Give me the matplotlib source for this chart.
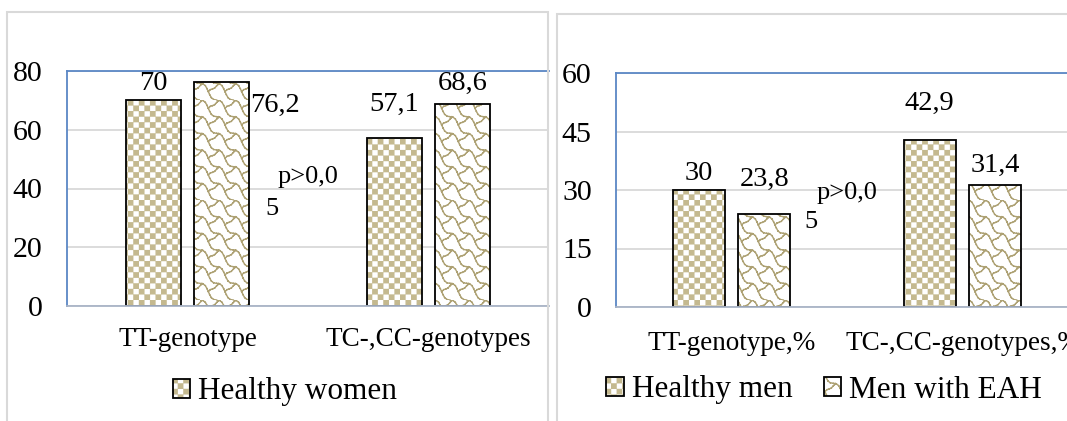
import numpy as np
import matplotlib
matplotlib.use('Agg')
import matplotlib.pyplot as plt
import matplotlib.hatch as mhatch
from matplotlib.colors import to_rgba
from matplotlib.path import Path
from matplotlib.patches import Rectangle

# data
women_cats = ['TT-genotype', 'TC-,CC-genotypes']
women_healthy = [70, 57.1]
women_eah = [76.2, 68.6]
women_healthy_lbl = ['70', '57,1']
women_eah_lbl = ['76,2', '68,6']

men_cats = ['TT-genotype,%', 'TC-,CC-genotypes,%']
men_healthy = [30, 42.9]
men_eah = [23.8, 31.4]
men_healthy_lbl = ['30', '42,9']
men_eah_lbl = ['23,8', '31,4']

p_text = ['p>0,0', '5']

CHECK_COL = '#c4b98f'
WAVE_COL = '#ada173'


# custom hatches: 'o' -> checkerboard, 'O' -> shingle waves
class CheckerHatch(mhatch.HatchPatternBase):
    filled = True

    def __init__(self, hatch, density):
        self.n = 18 if 'o' in hatch else 0
        self.num_vertices = (self.n * self.n // 2) * 5

    def set_vertices_and_codes(self, vertices, codes):
        s = 1.0 / self.n
        d = 0.006
        k = 0
        for i in range(self.n):
            for j in range(self.n):
                if (i + j) % 2:
                    continue
                x0, y0 = i * s + d, j * s + d
                x1, y1 = (i + 1) * s - d, (j + 1) * s - d
                vertices[k:k + 5] = [(x0, y0), (x1, y0), (x1, y1), (x0, y1), (x0, y0)]
                codes[k:k + 5] = [Path.MOVETO, Path.LINETO, Path.LINETO,
                                  Path.LINETO, Path.CLOSEPOLY]
                k += 5


class ShingleHatch(mhatch.HatchPatternBase):
    filled = False
    motif = [[(0.0, 1.0), (0.18, 0.97), (0.32, 0.86), (0.42, 0.68), (0.5, 0.5),
              (0.58, 0.32), (0.68, 0.14), (0.82, 0.03), (1.0, 0.0)],
             [(0.5, 0.5), (0.62, 0.62), (0.75, 0.66), (0.88, 0.72), (1.0, 0.85)],
             [(0.0, 0.85), (0.08, 0.93), (0.12, 1.0)]]

    def __init__(self, hatch, density):
        self.n = 6 if 'O' in hatch else 0
        nseg = sum(len(m) - 1 for m in self.motif)
        self.num_vertices = self.n * self.n * nseg * 2

    def set_vertices_and_codes(self, vertices, codes):
        s = 1.0 / self.n
        k = 0
        for i in range(self.n):
            for j in range(self.n):
                for m in self.motif:
                    for a, b in zip(m[:-1], m[1:]):
                        vertices[k] = ((i + a[0]) * s, (j + a[1]) * s)
                        vertices[k + 1] = ((i + b[0]) * s, (j + b[1]) * s)
                        codes[k] = Path.MOVETO
                        codes[k + 1] = Path.LINETO
                        k += 2


mhatch._hatch_types = [CheckerHatch, ShingleHatch]

plt.rcParams['font.family'] = ['Liberation Serif', 'DejaVu Serif']
plt.rcParams['hatch.linewidth'] = 1.0

W, H = 1067, 421
fig = plt.figure(figsize=(W / 100, H / 100), dpi=100)
fig.patch.set_facecolor('white')

# panel frames
fig.add_artist(Rectangle((7 / W, -0.1), 541 / W, (H - 12) / H + 0.1, transform=fig.transFigure,
                         fill=False, edgecolor='#d9d9d9', linewidth=1.5))
fig.add_artist(Rectangle((557 / W, -0.1), 600 / W, (H - 14) / H + 0.1, transform=fig.transFigure,
                         fill=False, edgecolor='#d9d9d9', linewidth=1.5))

ax1 = fig.add_axes([67 / W, (H - 306) / H, 482 / W, 235 / H])
ax2 = fig.add_axes([616 / W, (H - 307) / H, 462 / W, 234 / H])

bw = 0.226
off = 0.142
blue = '#5b87c5'


def style(ax, ymax, step, cats, xpad):
    ax.set_xlim(-0.5, 1.5)
    ax.set_ylim(0, ymax)
    ax.set_yticks(np.arange(0, ymax + 1, step))
    ax.set_xticks([0, 1])
    ax.set_xticklabels(cats, fontsize=19.5)
    ax.tick_params(axis='y', length=0, pad=17.5, labelsize=21.5)
    ax.tick_params(axis='x', length=0, pad=xpad)
    ax.grid(axis='y', color='#d9d9d9', linewidth=1.3)
    ax.set_axisbelow(True)
    ax.spines['right'].set_visible(False)
    ax.spines['left'].set_color(blue)
    ax.spines['top'].set_color(blue)
    ax.spines['bottom'].set_color('#a9b4c6')
    for sp in ax.spines.values():
        sp.set_linewidth(1.3)


def bars(ax, a, b):
    x = np.arange(2)
    b1 = ax.bar(x - off, a, bw, facecolor='white', edgecolor='black', linewidth=1.3, hatch='o')
    b2 = ax.bar(x + off, b, bw, facecolor='white', edgecolor='black', linewidth=1.3, hatch='O')
    for p in b1:
        p._hatch_color = to_rgba(CHECK_COL)
    for p in b2:
        p._hatch_color = to_rgba(WAVE_COL)
    return b1, b2


# left chart - women
style(ax1, 80, 20, women_cats, 15)
b1, b2 = bars(ax1, women_healthy, women_eah)
w_off1 = [(0, 7.5), (0, 20)]
w_off2 = [(1, -21.4), (0, 10.4)]
for i in range(2):
    ax1.annotate(women_healthy_lbl[i], (i - off, women_healthy[i]), xytext=w_off1[i],
                 textcoords='offset points', ha='center', va='baseline', fontsize=20.5)
    if w_off2[i][0]:
        ax1.annotate(women_eah_lbl[i], (i + off + bw / 2, women_eah[i]), xytext=w_off2[i],
                     textcoords='offset points', ha='left', va='baseline', fontsize=20.5)
    else:
        ax1.annotate(women_eah_lbl[i], (i + off, women_eah[i]), xytext=w_off2[i],
                     textcoords='offset points', ha='center', va='baseline', fontsize=20.5)
ax1.text(0.3755, 41.9, p_text[0], fontsize=19, ha='left', va='baseline')
ax1.text(0.3216, 31.0, p_text[1], fontsize=19, ha='left', va='baseline')
fig.legend([b1[0]], ['Healthy women'], loc='center', bbox_to_anchor=(285 / W, 1 - 392 / H),
           frameon=False, fontsize=22.5, handlelength=0.56, handleheight=0.56,
           handletextpad=0.26, borderpad=0)

# right chart - men
style(ax2, 60, 15, men_cats, 17)
c1, c2 = bars(ax2, men_healthy, men_eah)
m_off1 = [(0, 7.2), (0, 21.4)]
m_off2 = [(0, 20.5), (0, 9.2)]
for i in range(2):
    ax2.annotate(men_healthy_lbl[i], (i - off, men_healthy[i]), xytext=m_off1[i],
                 textcoords='offset points', ha='center', va='baseline', fontsize=20.5)
    ax2.annotate(men_eah_lbl[i], (i + off, men_eah[i]), xytext=m_off2[i],
                 textcoords='offset points', ha='center', va='baseline', fontsize=20.5)
ax2.text(0.370, 27.7, p_text[0], fontsize=19, ha='left', va='baseline')
ax2.text(0.314, 20.3, p_text[1], fontsize=19, ha='left', va='baseline')
fig.legend([c1[0], c2[0]], ['Healthy men', 'Men with EAH'], loc='center',
           bbox_to_anchor=(824 / W, 1 - 390 / H), ncol=2, frameon=False, fontsize=22.5,
           handlelength=0.56, handleheight=0.56, handletextpad=0.26, columnspacing=1.0,
           borderpad=0)

fig.savefig('out.png', dpi=100)
